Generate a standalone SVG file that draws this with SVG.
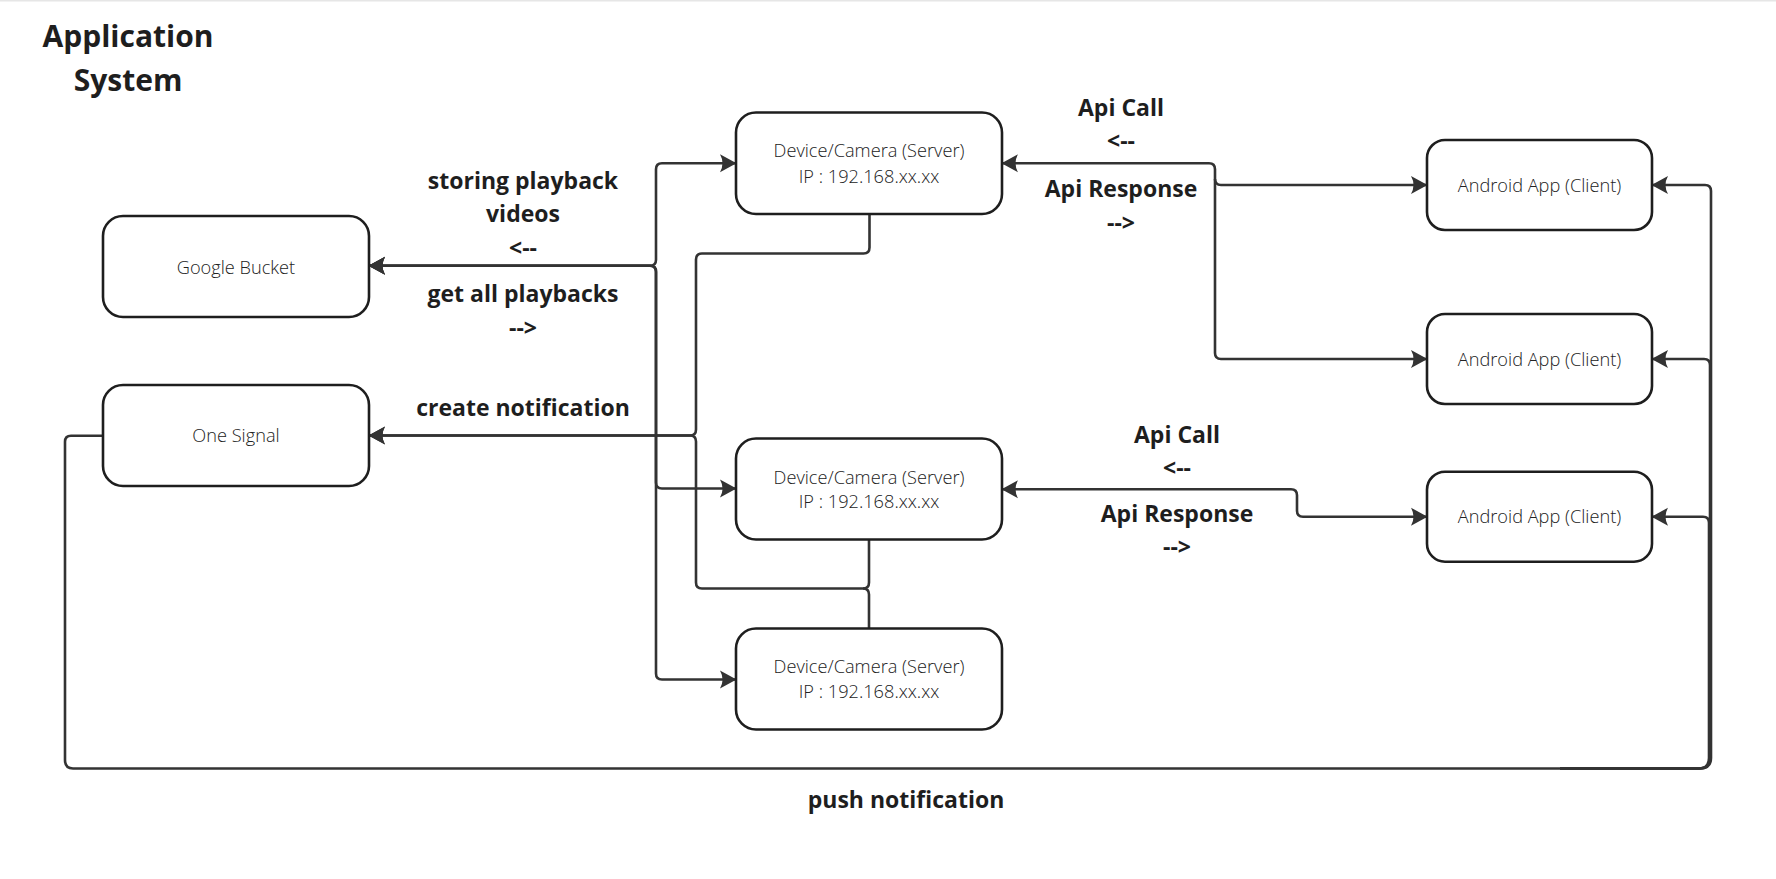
<svg xmlns="http://www.w3.org/2000/svg" width="1776" height="879" viewBox="0 0 1776 879">
<defs>
<marker id="arr" viewBox="0 0 18 20" refX="17" refY="10" markerWidth="18" markerHeight="20" markerUnits="userSpaceOnUse" orient="auto-start-reverse">
<path d="M1,1 L17.5,10 L1,19 Q6,10 1,1 Z" fill="#333"/>
</marker>
<style>
.box{fill:#fff;stroke:#1e1e1e;stroke-width:2.6}
.lbl{font-family:"Open Sans","Liberation Sans",sans-serif;font-size:18.2px;font-weight:300;fill:#222;text-anchor:middle}
.bold{font-family:"Open Sans","Liberation Sans",sans-serif;font-size:23px;font-weight:700;fill:#1e1e1e;text-anchor:middle}
.title{font-family:"Open Sans","Liberation Sans",sans-serif;font-size:30px;font-weight:700;fill:#1e1e1e;text-anchor:middle}
.c{fill:none;stroke:#333;stroke-width:2.6;stroke-linejoin:round}
.ab{marker-start:url(#arr);marker-end:url(#arr)}
.ae{marker-end:url(#arr)}
</style>
</defs>
<rect width="1776" height="879" fill="#fff"/>
<rect x="0" y="0" width="1776" height="1.5" fill="#e6e6e6"/>

<g id="title">
<text class="title" x="128" y="47">Application</text>
<text class="title" x="128" y="91">System</text>
</g>

<g id="connectors">
<path class="c ab" d="M369,265.7 H650 Q656,265.7 656,259.7 V169.3 Q656,163.3 662,163.3 H736"/>
<path class="c ab" d="M369,265.7 H650 Q656,265.7 656,271.7 V482.5 Q656,488.5 662,488.5 H736"/>
<path class="c ab" d="M369,265.7 H650 Q656,265.7 656,271.7 V673.5 Q656,679.5 662,679.5 H736"/>
<path class="c ae" d="M869.5,214 V247.5 Q869.5,253.5 863.5,253.5 H702 Q696,253.5 696,259.5 V429.5 Q696,435.5 690,435.5 H369"/>
<path class="c ae" d="M869,539 V582.5 Q869,588.5 863,588.5 H702 Q696,588.5 696,582.5 V441.5 Q696,435.5 690,435.5 H369"/>
<path class="c" d="M869,628 V594.5 Q869,588.5 863,588.5"/>
<path class="c ab" d="M1427,185 H1221 Q1215,185 1215,179 V169.3 Q1215,163.3 1209,163.3 H1002"/>
<path class="c ae" d="M1215,179 V353 Q1215,359 1221,359 H1427"/>
<path class="c ab" d="M1427,516.7 H1303 Q1297,516.7 1297,510.7 V495.3 Q1297,489.3 1291,489.3 H1002"/>
<path class="c ae" d="M103,435.7 H71 Q65,435.7 65,441.7 V760 Q65,768.5 73,768.5 H1700 Q1711,768.5 1711,758 V191 Q1711,185 1705,185 H1652"/>
<path class="c ae" d="M1560,768.5 H1700 Q1710,768.5 1710,758 V365 Q1710,359 1704,359 H1652"/>
<path class="c ae" d="M1560,768.5 H1699 Q1709,768.5 1709,758 V522.7 Q1709,516.7 1703,516.7 H1652"/>
</g>

<g id="google-bucket">
<rect class="box" x="103" y="216" width="266" height="101" rx="20"/>
<text class="lbl" x="236" y="274">Google Bucket</text>
</g>
<g id="one-signal">
<rect class="box" x="103" y="385" width="266" height="101" rx="20"/>
<text class="lbl" x="236" y="442">One Signal</text>
</g>
<g id="device-1">
<rect class="box" x="736" y="112.5" width="266" height="101.5" rx="20"/>
<text class="lbl" x="869" y="157">Device/Camera (Server)</text>
<text class="lbl" x="869" y="183">IP : 192.168.xx.xx</text>
</g>
<g id="device-2">
<rect class="box" x="736" y="438.5" width="266" height="101" rx="20"/>
<text class="lbl" x="869" y="483.5">Device/Camera (Server)</text>
<text class="lbl" x="869" y="508">IP : 192.168.xx.xx</text>
</g>
<g id="device-3">
<rect class="box" x="736" y="628.5" width="266" height="101" rx="20"/>
<text class="lbl" x="869" y="673">Device/Camera (Server)</text>
<text class="lbl" x="869" y="698">IP : 192.168.xx.xx</text>
</g>
<g id="android-1">
<rect class="box" x="1427" y="140" width="225" height="90" rx="18"/>
<text class="lbl" x="1539.5" y="192">Android App (Client)</text>
</g>
<g id="android-2">
<rect class="box" x="1427" y="314" width="225" height="90" rx="18"/>
<text class="lbl" x="1539.5" y="366">Android App (Client)</text>
</g>
<g id="android-3">
<rect class="box" x="1427" y="471.7" width="225" height="90" rx="18"/>
<text class="lbl" x="1539.5" y="523">Android App (Client)</text>
</g>

<g id="labels">
<text class="bold" x="523" y="189">storing playback</text>
<text class="bold" x="523" y="221.5">videos</text>
<text class="bold" x="523" y="256">&lt;--</text>
<text class="bold" x="523" y="301.5">get all playbacks</text>
<text class="bold" x="523" y="336">--&gt;</text>
<text class="bold" x="523" y="416">create notification</text>
<text class="bold" x="1121" y="115.5">Api Call</text>
<text class="bold" x="1121" y="149">&lt;--</text>
<text class="bold" x="1121" y="197">Api Response</text>
<text class="bold" x="1121" y="231">--&gt;</text>
<text class="bold" x="1177" y="442.5">Api Call</text>
<text class="bold" x="1177" y="476">&lt;--</text>
<text class="bold" x="1177" y="521.5">Api Response</text>
<text class="bold" x="1177" y="555">--&gt;</text>
<text class="bold" x="906" y="808">push notification</text>
</g>
</svg>
